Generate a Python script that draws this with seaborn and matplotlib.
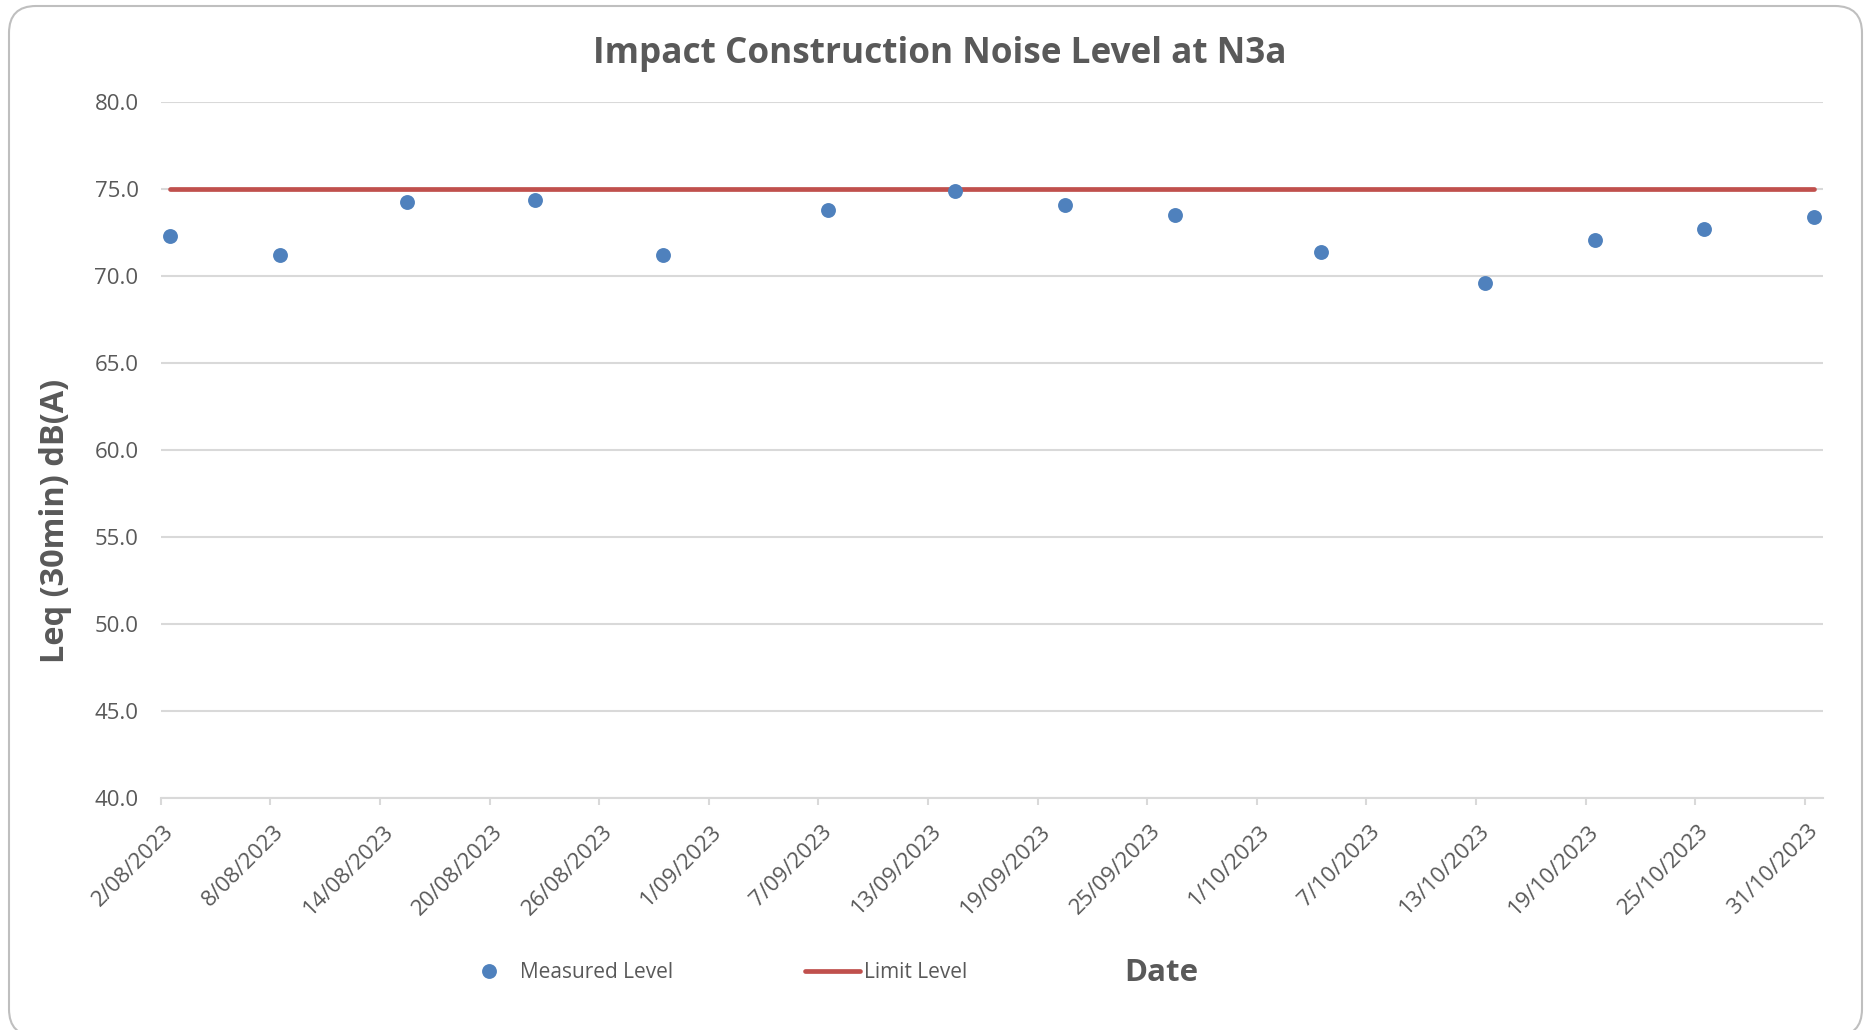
import matplotlib
matplotlib.use("Agg")
import matplotlib.pyplot as plt
import matplotlib.dates as mdates
from matplotlib.patches import FancyBboxPatch
from matplotlib.lines import Line2D
from matplotlib.transforms import IdentityTransform, ScaledTranslation
import pandas as pd
import seaborn as sns

# Monitoring dates and measured Leq(30min) levels at N3a
dates = ["2023-08-02", "2023-08-08", "2023-08-15", "2023-08-22", "2023-08-29",
         "2023-09-07", "2023-09-14", "2023-09-20", "2023-09-26", "2023-10-04",
         "2023-10-13", "2023-10-19", "2023-10-25", "2023-10-31"]
measured = [72.3, 71.2, 74.3, 74.4, 71.2, 73.8, 74.9, 74.1, 73.5, 71.4,
            69.6, 72.1, 72.7, 73.4]
limit = [75.0] * len(dates)

tick_labels = ["2/08/2023", "8/08/2023", "14/08/2023", "20/08/2023", "26/08/2023",
               "1/09/2023", "7/09/2023", "13/09/2023", "19/09/2023", "25/09/2023",
               "1/10/2023", "7/10/2023", "13/10/2023", "19/10/2023", "25/10/2023",
               "31/10/2023"]
y_ticks = [40, 45, 50, 55, 60, 65, 70, 75, 80]

BLUE = "#4F81BD"
RED = "#C0504D"
GREY_TXT = "#595959"
GRID = "#D9D9D9"

sns.set_theme(style="white")
plt.rcParams["font.family"] = ["Open Sans", "DejaVu Sans"]

# each day occupies one slot on the date axis; points sit mid-slot
df = pd.DataFrame({
    "date": pd.to_datetime(dates) + pd.Timedelta(hours=12),
    "Measured Level": measured,
    "Limit Level": limit,
})

W, H = 1868, 1030
fig = plt.figure(figsize=(W / 100, H / 100), dpi=100)
ax = fig.add_axes([160.8 / W, 1 - 798 / H, (1823 - 160.8) / W, (798 - 102.4) / H])

sns.lineplot(data=df, x="date", y="Limit Level", ax=ax, color=RED, lw=3.4,
             solid_capstyle="round", zorder=3, legend=False)
sns.scatterplot(data=df, x="date", y="Measured Level", ax=ax, color=BLUE, s=115,
                linewidth=0, zorder=4, legend=False)

# axes ranges and ticks
ax.set_ylim(40, 80)
ax.set_yticks(y_ticks)
ax.set_yticklabels([f"{v:.1f}" for v in y_ticks])
tick_pos = mdates.date2num(pd.to_datetime(tick_labels, format="%d/%m/%Y"))
ax.set_xlim(mdates.date2num(pd.Timestamp("2023-08-02")),
            mdates.date2num(pd.Timestamp("2023-11-01")))
ax.set_xticks(tick_pos)

# slanted date labels, baseline end just right of and below each tick
label_tr = ax.get_xaxis_transform() + ScaledTranslation(14 / 100, -34 / 100,
                                                         fig.dpi_scale_trans)
for pos, lab in zip(tick_pos, tick_labels):
    ax.text(pos, 0, lab, transform=label_tr, rotation=45, rotation_mode="anchor",
            ha="right", va="baseline", fontsize=16, color=GREY_TXT, clip_on=False)

ax.grid(axis="y", color=GRID, lw=1.5)
ax.set_axisbelow(True)
for side in ["top", "right", "left"]:
    ax.spines[side].set_visible(False)
ax.spines["bottom"].set_color(GRID)
ax.spines["bottom"].set_linewidth(1.5)
ax.tick_params(axis="x", bottom=True, length=5, width=1.5, color=GRID,
               labelbottom=False)
ax.tick_params(axis="y", left=False, labelsize=16, labelcolor=GREY_TXT, pad=10)

# chart title, centred on the chart area
fig.text(940 / W, 1 - 54 / H, "Impact Construction Noise Level at N3a",
         fontsize=25.3, fontweight="bold", color=GREY_TXT, ha="center", va="center")

ax.set_ylabel("Leq (30min) dB(A)", fontsize=23.4, fontweight="bold", color=GREY_TXT)
ax.yaxis.set_label_coords((56 - 160.8) / (1823 - 160.8), (798 - 521) / (798 - 102.4))
ax.yaxis.label.set_va("center")

ax.set_xlabel("Date", fontsize=22.5, fontweight="bold", color=GREY_TXT)
ax.xaxis.set_label_coords((1161 - 160.8) / (1823 - 160.8), (798 - 973) / (798 - 102.4))
ax.xaxis.label.set_va("center")

# legend along the bottom
handles = [
    Line2D([], [], ls="none", marker="o", markersize=10.7, color=BLUE, markeredgewidth=0),
    Line2D([], [], color=RED, lw=3.4, solid_capstyle="round"),
]
fig.legend(handles, ["Measured Level", "Limit Level"], ncol=2, frameon=False,
           loc="center left", bbox_to_anchor=(461 / W, 1 - 973 / H),
           fontsize=15, labelcolor=GREY_TXT, handlelength=2.65,
           handletextpad=0.2, columnspacing=6.3, borderpad=0, borderaxespad=0)

# rounded chart-area border
border = FancyBboxPatch((9, -6), 1853, 1030, boxstyle="round,pad=0,rounding_size=27",
                        transform=IdentityTransform(), fill=False,
                        edgecolor="#BFBFBF", lw=1.5, figure=fig)
fig.patches.append(border)

fig.savefig("out.png", dpi=100, facecolor="white")
